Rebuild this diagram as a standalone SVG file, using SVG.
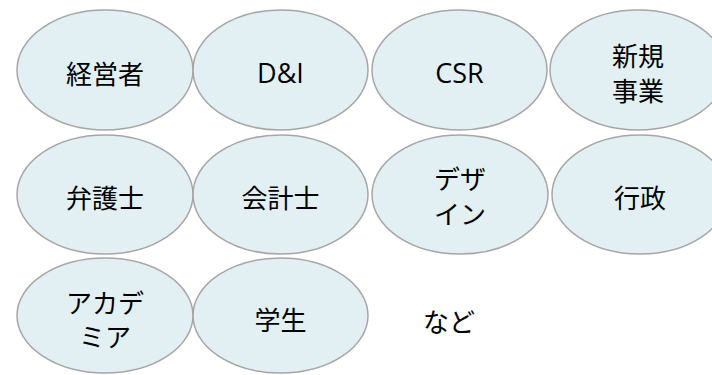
<svg xmlns="http://www.w3.org/2000/svg" width="712" height="375" viewBox="0 0 712 375">
<style>
.n ellipse{fill:#E2F0F3;stroke:#A6A6A6;stroke-width:1.5}
text{font-family:"Noto Sans CJK JP","Noto Sans",sans-serif;font-size:26px;fill:#000;text-anchor:middle;dominant-baseline:central}
text.lat{font-family:"Open Sans","Noto Sans CJK JP",sans-serif;font-size:27px}
</style>
<rect width="712" height="375" fill="#fff"/>
<g id="n1" class="n"><ellipse cx="105" cy="70" rx="88" ry="60"/><text x="105" y="72">経営者</text></g>
<g id="n2" class="n"><ellipse cx="280.5" cy="70" rx="87.5" ry="60"/><text class="lat" x="280.5" y="72">D&amp;I</text></g>
<g id="n3" class="n"><ellipse cx="459.5" cy="70" rx="87.5" ry="60"/><text class="lat" x="459.5" y="72">CSR</text></g>
<g id="n4" class="n"><ellipse cx="638" cy="70" rx="88" ry="60"/><text x="638" y="54.5">新規<tspan x="638" dy="34">事業</tspan></text></g>
<g id="n5" class="n"><ellipse cx="105" cy="194.5" rx="88" ry="59.5"/><text x="105" y="196">弁護士</text></g>
<g id="n6" class="n"><ellipse cx="280.5" cy="194.5" rx="87.5" ry="59.5"/><text x="280.5" y="196">会計士</text></g>
<g id="n7" class="n"><ellipse cx="460" cy="194.5" rx="88" ry="59.5"/><text x="460" y="177.5">デザ<tspan x="460" dy="34">イン</tspan></text></g>
<g id="n8" class="n"><ellipse cx="640" cy="194.5" rx="88" ry="59.5"/><text x="640" y="196">行政</text></g>
<g id="n9" class="n"><ellipse cx="105" cy="315.5" rx="88" ry="57.5"/><text x="105" y="301">アカデ<tspan x="105" dy="34">ミア</tspan></text></g>
<g id="n10" class="n"><ellipse cx="280.5" cy="315.5" rx="87.5" ry="57.5"/><text x="280.5" y="318">学生</text></g>
<g id="n11"><text x="449" y="320">など</text></g>
<g id="connectors"/>
</svg>
